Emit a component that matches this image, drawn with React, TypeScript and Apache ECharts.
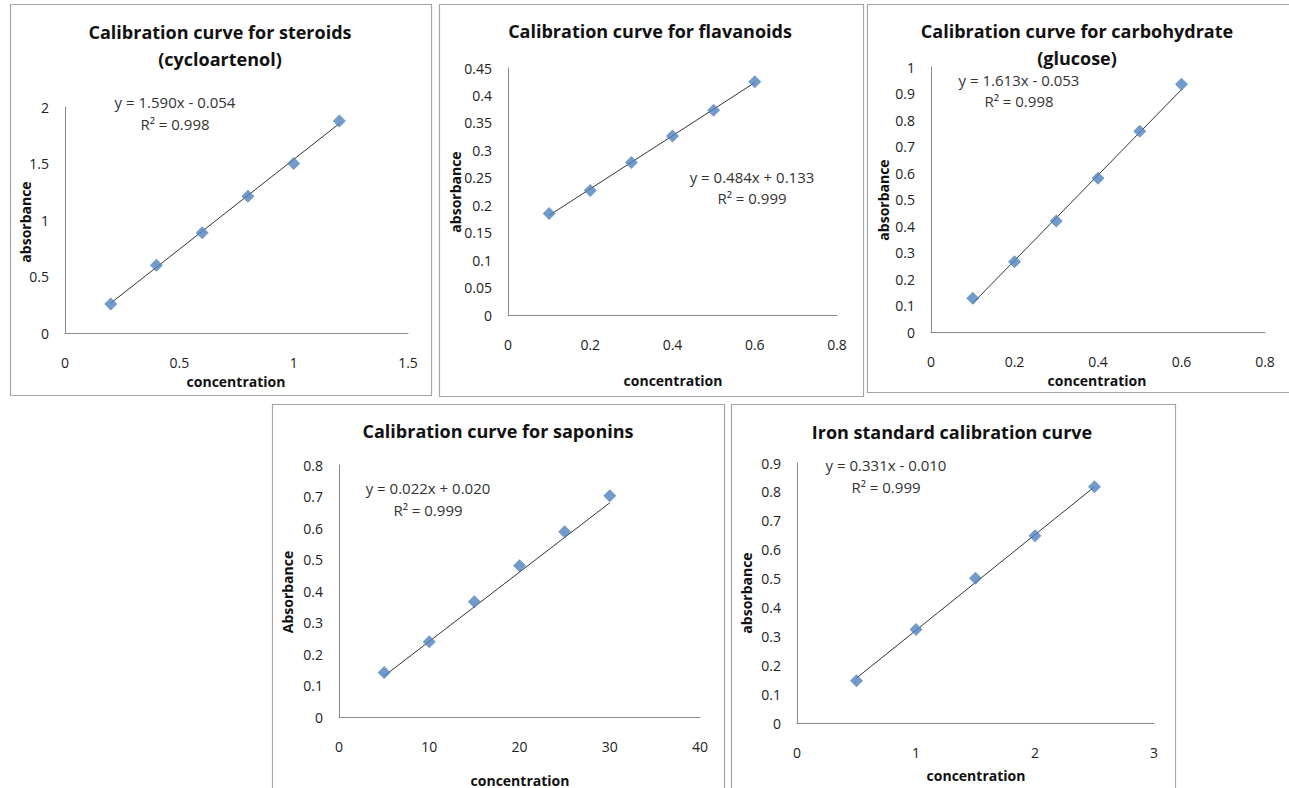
import React, { useEffect, useRef } from "react";
import * as echarts from "echarts";

// ---- data ----
const steroidConc = [0.2, 0.4, 0.6, 0.8, 1.0, 1.2];
const steroidAbs = [0.256, 0.6, 0.887, 1.21, 1.5, 1.876];
const flavConc = [0.1, 0.2, 0.3, 0.4, 0.5, 0.6];
const flavAbs = [0.185, 0.227, 0.278, 0.326, 0.373, 0.425];
const carbConc = [0.1, 0.2, 0.3, 0.4, 0.5, 0.6];
const carbAbs = [0.127, 0.265, 0.419, 0.58, 0.758, 0.935];
const sapConc = [5, 10, 15, 20, 25, 30];
const sapAbs = [0.141, 0.239, 0.366, 0.48, 0.588, 0.702];
const ironConc = [0.5, 1, 1.5, 2, 2.5];
const ironAbs = [0.146, 0.324, 0.501, 0.648, 0.818];

const slopes = [1.59, 0.484, 1.613, 0.022, 0.331];
const intercepts = [-0.054, 0.133, -0.053, 0.02, -0.01];
const rSquared = [0.998, 0.999, 0.998, 0.999, 0.999];

const titles = [
  ["Calibration curve for steroids", "(cycloartenol)"],
  ["Calibration curve for flavanoids"],
  ["Calibration curve for carbohydrate", "(glucose)"],
  ["Calibration curve for saponins"],
  ["Iron standard calibration curve"],
];
const xNames = ["concentration", "concentration", "concentration", "concentration", "concentration"];
const yNames = ["absorbance", "absorbance", "absorbance", "Absorbance", "absorbance"];
const xMaxes = [1.5, 0.8, 0.8, 40, 3];
const xSteps = [0.5, 0.2, 0.2, 10, 1];
const yMaxes = [2, 0.45, 1, 0.8, 0.9];
const ySteps = [0.5, 0.05, 0.1, 0.1, 0.1];

const concs = [steroidConc, flavConc, carbConc, sapConc, ironConc];
const abss = [steroidAbs, flavAbs, carbAbs, sapAbs, ironAbs];

// ---- layout ----
const panels = [
  { box: [10, 4, 421, 391], grid: [65, 107, 343, 226], title: [220, 32, 27], xn: [236, 381], yn: [25, 222], eq: [175, 102, 22] },
  { box: [439, 4, 424, 392], grid: [508, 68, 329, 247], title: [650, 31, 27], xn: [673, 380], yn: [455, 192], eq: [752, 177, 21] },
  { box: [867, 4, 430, 388], grid: [931, 67, 334, 265], title: [1077, 31, 27], xn: [1097, 380], yn: [883, 200], eq: [1019, 80, 21] },
  { box: [272, 404, 452, 400], grid: [339, 465, 361, 252], title: [498, 431, 27], xn: [520, 780], yn: [287, 592], eq: [428, 488, 22] },
  { box: [731, 404, 444, 400], grid: [797, 463, 357, 260], title: [952, 432, 27], xn: [976, 775], yn: [746, 593], eq: [886, 465, 22] },
];

const FONT = '"Open Sans", Lato, "DejaVu Sans", sans-serif';

function eqText(i: number) {
  const s = slopes[i].toFixed(3);
  const b = intercepts[i];
  const sign = b < 0 ? "-" : "+";
  return `y = ${s}x ${sign} ${Math.abs(b).toFixed(3)}`;
}

export default function App() {
  const ref = useRef<HTMLDivElement>(null);
  useEffect(() => {
    if (!ref.current) return;
    const chart = echarts.init(ref.current, undefined, { renderer: "svg" });

    const grids: any[] = [];
    const xAxes: any[] = [];
    const yAxes: any[] = [];
    const series: any[] = [];
    const graphics: any[] = [];

    panels.forEach((p, i) => {
      const [gl, gt, gw, gh] = p.grid;
      grids.push({ left: gl, top: gt, width: gw, height: gh, containLabel: false });
      const axisCommon = {
        type: "value",
        gridIndex: i,
        min: 0,
        axisLine: { show: true, onZero: false, lineStyle: { color: "#8a8a8a", width: 1 } },
        axisTick: { show: false },
        splitLine: { show: false },
      };
      xAxes.push({
        ...axisCommon,
        max: xMaxes[i],
        interval: xSteps[i],
        axisLabel: { margin: 22, fontSize: 14, color: "#222", fontFamily: FONT },
      });
      yAxes.push({
        ...axisCommon,
        max: yMaxes[i],
        interval: ySteps[i],
        axisLabel: { margin: 16, fontSize: 14, color: "#222", fontFamily: FONT },
      });
      const xs = concs[i];
      const ys = abss[i];
      const x0 = Math.min(...xs);
      const x1 = Math.max(...xs);
      series.push({
        type: "line",
        xAxisIndex: i,
        yAxisIndex: i,
        data: [
          [x0, slopes[i] * x0 + intercepts[i]],
          [x1, slopes[i] * x1 + intercepts[i]],
        ],
        symbol: "none",
        lineStyle: { color: "#333", width: 1 },
        z: 2,
        silent: true,
      });
      series.push({
        type: "scatter",
        xAxisIndex: i,
        yAxisIndex: i,
        data: xs.map((x, k) => [x, ys[k]]),
        symbol: "diamond",
        symbolSize: 13,
        itemStyle: { color: "#4f81bd" },
        z: 3,
      });

      const [bx, by, bw, bh] = p.box;
      graphics.push({
        type: "rect",
        shape: { x: bx + 0.5, y: by + 0.5, width: bw, height: bh },
        style: { fill: "none", stroke: "#a6a6a6", lineWidth: 1.2 },
        z: 0,
      });
      titles[i].forEach((t, k) => {
        graphics.push({
          type: "text",
          x: p.title[0],
          y: p.title[1] + k * p.title[2],
          style: {
            text: t,
            fontSize: 18,
            fontWeight: "bold",
            fontFamily: FONT,
            fill: "#111",
            align: "center",
            verticalAlign: "middle",
          },
        });
      });
      graphics.push({
        type: "text",
        x: p.xn[0],
        y: p.xn[1],
        style: {
          text: xNames[i],
          fontSize: 14,
          fontWeight: "bold",
          fontFamily: FONT,
          fill: "#111",
          align: "center",
          verticalAlign: "middle",
        },
      });
      graphics.push({
        type: "text",
        x: p.yn[0],
        y: p.yn[1],
        rotation: Math.PI / 2,
        style: {
          text: yNames[i],
          fontSize: 14,
          fontWeight: "bold",
          fontFamily: FONT,
          fill: "#111",
          align: "center",
          verticalAlign: "middle",
        },
      });
      graphics.push({
        type: "text",
        x: p.eq[0],
        y: p.eq[1],
        style: {
          text: eqText(i),
          fontSize: 15,
          fontFamily: FONT,
          fill: "#333",
          align: "center",
          verticalAlign: "middle",
        },
      });
      graphics.push({
        type: "text",
        x: p.eq[0],
        y: p.eq[1] + p.eq[2],
        style: {
          text: `R² = ${rSquared[i].toFixed(3)}`,
          fontSize: 15,
          fontFamily: FONT,
          fill: "#333",
          align: "center",
          verticalAlign: "middle",
        },
      });
    });

    chart.setOption({
      animation: false,
      backgroundColor: "#fff",
      grid: grids,
      xAxis: xAxes,
      yAxis: yAxes,
      series,
      graphic: graphics,
    });
    return () => chart.dispose();
  }, []);

  return (
    <div
      ref={ref}
      style={{ position: "absolute", left: 0, top: 0, width: 1289, height: 788 }}
    />
  );
}
